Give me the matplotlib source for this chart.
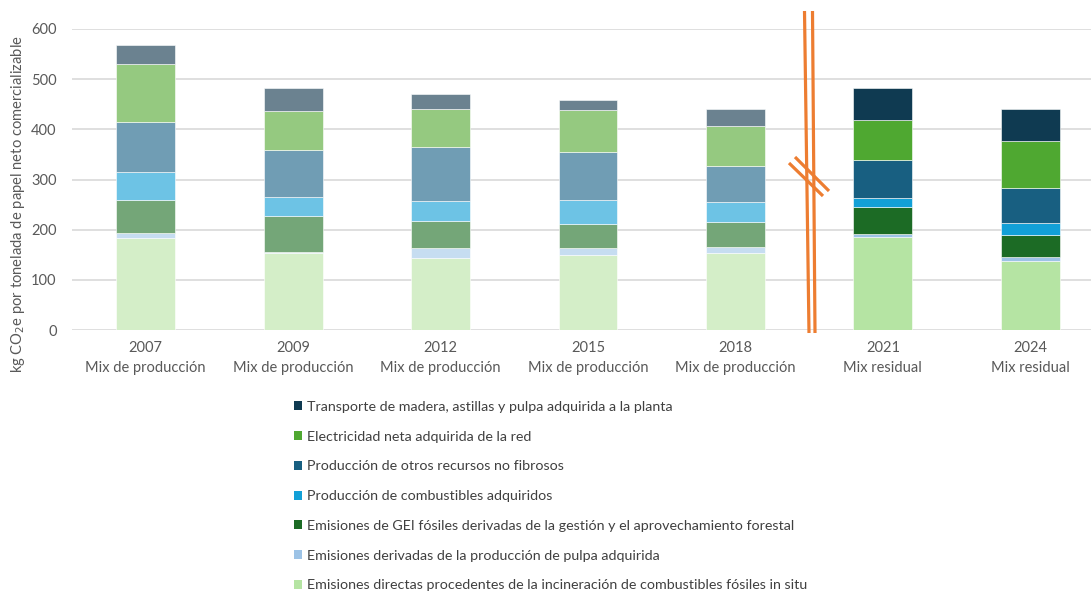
import matplotlib.pyplot as plt
from matplotlib.patches import Patch

# categories
years = ["2007", "2009", "2012", "2015", "2018", "2021", "2024"]
mixes = ["Mix de producción"] * 5 + ["Mix residual"] * 2

# series values (kg CO2e / t), bottom to top
direct = [183, 153, 144, 150, 153, 186, 137]
pulp = [10, 3, 19, 13, 12, 5, 8]
gei = [66, 72, 54, 49, 51, 55, 45]
fuels = [56, 37, 40, 47, 40, 18, 24]
other = [99, 94, 107, 96, 70, 75, 70]
elec = [117, 78, 77, 83, 80, 80, 93]
transport = [38, 45, 30, 20, 35, 64, 64]

labels = [
    "Emisiones directas procedentes de la incineración de combustibles fósiles in situ",
    "Emisiones derivadas de la producción de pulpa adquirida",
    "Emisiones de GEI fósiles derivadas de la gestión y el aprovechamiento forestal",
    "Producción de combustibles adquiridos",
    "Producción de otros recursos no fibrosos",
    "Electricidad neta adquirida de la red",
    "Transporte de madera, astillas y pulpa adquirida a la planta",
]
series = [direct, pulp, gei, fuels, other, elec, transport]

muted = ["#D4EEC8", "#C6DDF1", "#74A678", "#6DC3E5", "#709DB4", "#95C980", "#6B8290"]
bright = ["#B5E4A3", "#9DC3E6", "#1C6B25", "#12A0D7", "#185F81", "#4FA831", "#0F3A51"]
n_muted = 5

plt.rcParams["font.family"] = ["Lato", "DejaVu Sans"]
gray = "#595959"

fig = plt.figure(figsize=(10.91, 5.93), dpi=100)
W, H = 1091, 593
ax = fig.add_axes([72 / W, (H - 330) / H, (1104 - 72) / W, 301 / H])

x = list(range(len(years)))
bottom = [0] * len(years)
for s, vals in enumerate(series):
    cols = [muted[s] if i < n_muted else bright[s] for i in x]
    ax.bar(x, vals, 0.4, bottom=bottom, color=cols, edgecolor="white",
           linewidth=0.4, zorder=3)
    bottom = [b + v for b, v in zip(bottom, vals)]

ax.set_xlim(-0.5, 6.5)
ax.set_ylim(0, 600)
ax.set_yticks(range(0, 601, 100))
ax.yaxis.grid(True, color="#D9D9D9", linewidth=1.2, zorder=0)
ax.set_axisbelow(True)
for sp in ax.spines.values():
    sp.set_visible(False)
ax.tick_params(axis="both", length=0, colors=gray, labelsize=10.5)
ax.tick_params(axis="y", pad=11)
ax.set_xticks(x)
ax.set_xticklabels([f"{y}\n{m}" for y, m in zip(years, mixes)], linespacing=1.5)
ax.tick_params(axis="x", pad=8)

fig.text(18 / W, 1 - 204 / H, "kg CO$_2$e por tonelada de papel neto comercializable",
         rotation=90, ha="center", va="center", color=gray, fontsize=10.6)

# axis break marker between 2018 and 2021
def px(xp, yp):
    return ax.transData.inverted().transform(fig.transFigure.transform((xp / W, 1 - yp / H)))

orange = "#ED7D31"
for (x0, y0, x1, y1) in [(804.5, 11, 809, 333), (812.5, 11, 815, 333),
                         (789, 163, 823, 196), (795, 157, 829, 191)]:
    p0, p1 = px(x0, y0), px(x1, y1)
    ax.plot([p0[0], p1[0]], [p0[1], p1[1]], color=orange, lw=2.3,
            solid_capstyle="butt", clip_on=False, zorder=5)

handles = [Patch(facecolor=bright[i]) for i in range(6, -1, -1)]
fig.legend(handles, [labels[i] for i in range(6, -1, -1)],
           loc="upper left", bbox_to_anchor=(281 / W, 1 - 388 / H),
           frameon=False, fontsize=10.3, handlelength=0.6, handleheight=0.6,
           handletextpad=0.35, labelspacing=1.24, labelcolor="#404040")

fig.savefig("out.png", dpi=100)
